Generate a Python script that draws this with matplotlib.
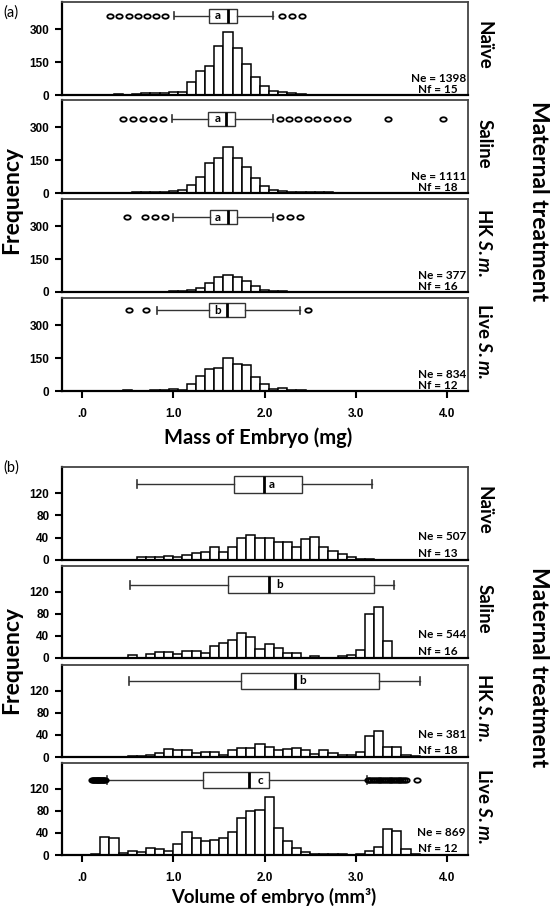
import matplotlib
matplotlib.use('Agg')
import matplotlib.pyplot as plt
from matplotlib.path import Path
import numpy as np

plt.rcParams['font.family'] = ['Lato', 'DejaVu Sans']
plt.rcParams['mathtext.fontset'] = 'custom'
plt.rcParams['mathtext.it'] = 'Lato:italic:bold'
plt.rcParams['mathtext.rm'] = 'Lato:bold'

# ---------------- data ----------------
treatments = ['Naïve', 'Saline', 'HK $\\mathit{S.m.}$', 'Live $\\mathit{S.m.}$']

# (a) Mass of embryo (mg) histogram, bins of width 0.1 centred on tenths
mass_centers = [0.3, 0.4, 0.5, 0.6, 0.7, 0.8, 0.9, 1.0, 1.1, 1.2, 1.3, 1.4, 1.5, 1.6, 1.7,
                1.8, 1.9, 2.0, 2.1, 2.2, 2.3, 2.4, 2.5, 2.6, 2.7, 2.8, 2.9, 3.0, 3.1, 3.2,
                3.3, 3.4, 3.5, 3.6, 3.7, 3.8, 3.9, 4.0]
mass_naive = [2, 4, 2, 5, 8, 8, 10, 15, 15, 57, 107, 134, 223, 285, 215, 141, 82, 42, 19, 13, 9, 4,
              0, 0, 0, 0, 0, 0, 0, 0, 0, 0, 0, 0, 0, 0, 0, 0]
mass_saline = [0, 0, 2, 5, 5, 6, 6, 8, 12, 35, 75, 138, 158, 211, 158, 120, 66, 32, 12, 8, 4, 3,
               3, 4, 3, 2, 2, 0, 0, 0, 0, 2, 0, 0, 0, 0, 0, 2]
mass_hk = [0, 0, 1, 0, 1, 2, 2, 3, 3, 8, 18, 40, 68, 78, 70, 50, 28, 10, 5, 3, 2, 1,
           0, 0, 0, 0, 0, 0, 0, 0, 0, 0, 0, 0, 0, 0, 0, 0]
mass_live = [0, 0, 3, 0, 2, 3, 3, 7, 6, 32, 68, 98, 105, 150, 122, 117, 62, 30, 10, 15, 5, 5,
             2, 0, 0, 0, 0, 0, 0, 0, 0, 0, 0, 0, 0, 0, 0, 0]
mass_counts = [mass_naive, mass_saline, mass_hk, mass_live]

# (a) boxplot summaries
mass_q1 = [1.39, 1.38, 1.40, 1.39]
mass_med = [1.60, 1.58, 1.60, 1.59]
mass_q3 = [1.70, 1.68, 1.70, 1.79]
mass_whislo = [1.01, 0.99, 1.00, 0.82]
mass_whishi = [2.09, 2.09, 2.09, 2.39]
mass_fliers = [
    [0.31, 0.41, 0.51, 0.61, 0.71, 0.81, 0.91, 2.19, 2.30, 2.41],
    [0.45, 0.56, 0.67, 0.78, 0.89, 2.17, 2.27, 2.37, 2.48, 2.58, 2.69, 2.79, 2.90, 3.35, 3.96],
    [0.49, 0.69, 0.80, 0.91, 2.17, 2.28, 2.39],
    [0.51, 0.70, 2.48],
]
mass_letters = ['a', 'a', 'a', 'b']
mass_letter_x = [1.49, 1.49, 1.49, 1.49]
mass_Ne = [1398, 1111, 377, 834]
mass_Nf = [15, 18, 16, 12]

# (b) Volume of embryo (mm3) histogram, bins of width 0.1 with left edges at tenths
vol_edges = [0.1, 0.2, 0.3, 0.4, 0.5, 0.6, 0.7, 0.8, 0.9, 1.0, 1.1, 1.2, 1.3, 1.4, 1.5, 1.6,
             1.7, 1.8, 1.9, 2.0, 2.1, 2.2, 2.3, 2.4, 2.5, 2.6, 2.7, 2.8, 2.9, 3.0, 3.1, 3.2,
             3.3, 3.4, 3.5, 3.6]
vol_naive = [0, 0, 0, 0, 0, 5, 6, 5, 7, 5, 9, 12, 15, 24, 15, 24, 39, 44, 39, 39, 32, 32,
             24, 38, 41, 24, 17, 10, 5, 2, 1, 0, 0, 0, 0, 0]
vol_saline = [0, 0, 0, 0, 5, 0, 8, 10, 10, 8, 13, 13, 9, 22, 27, 32, 45, 38, 16, 25, 18, 9,
              9, 0, 3, 0, 0, 4, 6, 14, 80, 93, 30, 0, 0, 0]
vol_hk = [0, 0, 0, 0, 1, 1, 3, 7, 15, 12, 13, 7, 9, 9, 4, 12, 16, 16, 23, 19, 12, 14,
          16, 12, 5, 12, 7, 3, 3, 9, 38, 48, 18, 19, 3, 1]
vol_live = [2, 33, 31, 4, 8, 5, 12, 10, 8, 20, 41, 30, 25, 28, 30, 41, 67, 80, 81, 105, 49, 25,
            12, 6, 2, 1, 1, 1, 0, 1, 7, 14, 47, 44, 10, 1]
vol_counts = [vol_naive, vol_saline, vol_hk, vol_live]

vol_q1 = [1.67, 1.60, 1.74, 1.33]
vol_med = [1.99, 2.05, 2.33, 1.83]
vol_q3 = [2.41, 3.20, 3.25, 2.05]
vol_whislo = [0.60, 0.53, 0.51, 0.27]
vol_whishi = [3.18, 3.42, 3.70, 3.12]
vol_fliers = [
    [],
    [],
    [],
    [0.11, 0.12, 0.13, 0.14, 0.15, 0.16, 0.17, 0.18, 0.19, 0.20, 0.21, 0.22, 0.23, 0.24, 0.25,
     3.13, 3.15, 3.17, 3.19, 3.21, 3.23, 3.25, 3.27, 3.29, 3.31, 3.33, 3.35, 3.37, 3.39, 3.41,
     3.43, 3.45, 3.47, 3.49, 3.51, 3.53, 3.55, 3.67],
]
vol_letters = ['a', 'b', 'b', 'c']
vol_letter_x = [2.08, 2.17, 2.42, 1.95]
vol_Ne = [507, 544, 381, 869]
vol_Nf = [13, 16, 18, 12]

x_ticks = [0.0, 1.0, 2.0, 3.0, 4.0]
x_ticklabels = ['.0', '1.0', '2.0', '3.0', '4.0']

# ---------------- layout ----------------
W, H = 554, 908
fig = plt.figure(figsize=(W / 100, H / 100), dpi=100)

panels_a = [(2, 95), (100, 193), (199, 292), (298, 391)]
panels_b = [(467, 560), (566, 658), (665, 757), (763, 855)]
LEFT, RIGHT = 62, 468

t = np.linspace(0, 2 * np.pi, 40)
ellipse = Path(np.column_stack([1.45 * np.cos(t), np.sin(t)]), closed=True)

TICKFONT = dict(family='Liberation Sans', weight='bold', size=8.5)


def make_ax(top, bottom):
    return fig.add_axes([LEFT / W, 1 - bottom / H, (RIGHT - LEFT) / W, (bottom - top) / H])


def style_ax(ax, ylim, yticks, bottom_panel):
    ax.set_xlim(-0.22, 4.23)
    ax.set_ylim(*ylim)
    ax.set_yticks(yticks)
    ax.set_yticklabels([str(v) for v in yticks], fontdict=TICKFONT)
    for s in ['left', 'bottom']:
        ax.spines[s].set_color('black')
        ax.spines[s].set_linewidth(1.6)
    for s in ['top', 'right']:
        ax.spines[s].set_color('#444444')
        ax.spines[s].set_linewidth(1.3)
    ax.tick_params(axis='y', direction='out', length=5, width=1.5, pad=4)
    if bottom_panel:
        ax.set_xticks(x_ticks)
        ax.set_xticklabels(x_ticklabels, fontdict=TICKFONT)
        ax.tick_params(axis='x', direction='out', length=5, width=1.5, pad=7)
    else:
        ax.set_xticks([])


def draw_box(ax, q1, med, q3, lo, hi, fliers, ypos, height, capw, letter, lx):
    stats = [dict(med=med, q1=q1, q3=q3, whislo=lo, whishi=hi, fliers=fliers)]
    ax.bxp(stats, positions=[ypos], widths=height, orientation='horizontal',
           showfliers=True, patch_artist=True, capwidths=capw,
           boxprops=dict(facecolor='white', edgecolor='#333333', linewidth=1.0),
           medianprops=dict(color='black', linewidth=2.0),
           whiskerprops=dict(color='#333333', linewidth=1.0),
           capprops=dict(color='#333333', linewidth=1.2),
           flierprops=dict(marker=ellipse, markersize=4.6, markerfacecolor='none',
                           markeredgecolor='black', markeredgewidth=1.3, linestyle='none'))
    ax.text(lx, ypos, letter, ha='center', va='center', fontsize=8.5, fontweight='bold', zorder=5)


# panel (a)
mass_box_y = [360, 338, 341, 368]
for i, (top, bot) in enumerate(panels_a):
    ax = make_ax(top, bot)
    ax.bar(mass_centers, mass_counts[i], width=0.1, color='white', edgecolor='black',
           linewidth=1.1, zorder=2)
    draw_box(ax, mass_q1[i], mass_med[i], mass_q3[i], mass_whislo[i], mass_whishi[i],
             mass_fliers[i], mass_box_y[i], 64, 32, mass_letters[i], mass_letter_x[i])
    style_ax(ax, (0, 423), [0, 150, 300], i == 3)
    ax.text(0.995, 0.18, f'Ne = {mass_Ne[i]}', transform=ax.transAxes, ha='right', va='center',
            fontsize=8.5, fontweight='bold')
    ax.text(0.975, 0.06, f'Nf = {mass_Nf[i]}', transform=ax.transAxes, ha='right', va='center',
            fontsize=8.5, fontweight='bold')
    fig.text(484 / W, 1 - ((top + bot) / 2 - 3) / H, treatments[i], rotation=270, ha='center',
             va='center', fontsize=13.5, fontweight='bold')

# panel (b)
vol_box_y = [136, 133, 138, 136]
for i, (top, bot) in enumerate(panels_b):
    ax = make_ax(top, bot)
    ax.bar(vol_edges, vol_counts[i], width=0.1, align='edge', color='white', edgecolor='black',
           linewidth=1.1, zorder=2)
    draw_box(ax, vol_q1[i], vol_med[i], vol_q3[i], vol_whislo[i], vol_whishi[i],
             vol_fliers[i], vol_box_y[i], 30, 14, vol_letters[i], vol_letter_x[i])
    style_ax(ax, (0, 167), [0, 40, 80, 120], i == 3)
    ax.text(0.995, 0.25, f'Ne = {vol_Ne[i]}', transform=ax.transAxes, ha='right', va='center',
            fontsize=8.5, fontweight='bold')
    ax.text(0.975, 0.075, f'Nf = {vol_Nf[i]}', transform=ax.transAxes, ha='right', va='center',
            fontsize=8.5, fontweight='bold')
    fig.text(484 / W, 1 - ((top + bot) / 2 - 3) / H, treatments[i], rotation=270, ha='center',
             va='center', fontsize=13.5, fontweight='bold')

# labels
fig.text(3 / W, 1 - 13 / H, '(a)', ha='left', va='center', fontsize=10.5)
fig.text(3 / W, 1 - 468 / H, '(b)', ha='left', va='center', fontsize=10.5)
fig.text(12 / W, 1 - 200 / H, 'Frequency', rotation=90, ha='center', va='center',
         fontsize=16.5, fontweight='bold')
fig.text(12 / W, 1 - 660 / H, 'Frequency', rotation=90, ha='center', va='center',
         fontsize=16.5, fontweight='bold')
fig.text(538 / W, 1 - 201 / H, 'Maternal treatment', rotation=270, ha='center', va='center',
         fontsize=16.5, fontweight='bold')
fig.text(538 / W, 1 - 667 / H, 'Maternal treatment', rotation=270, ha='center', va='center',
         fontsize=16.5, fontweight='bold')
fig.text(258 / W, 1 - 438 / H, 'Mass of Embryo (mg)', ha='center', va='center',
         fontsize=14.5, fontweight='bold')
fig.text(274 / W, 1 - 897 / H, 'Volume of embryo (mm³)', ha='center', va='center',
         fontsize=13.3, fontweight='bold')

fig.savefig('out.png', dpi=100)
